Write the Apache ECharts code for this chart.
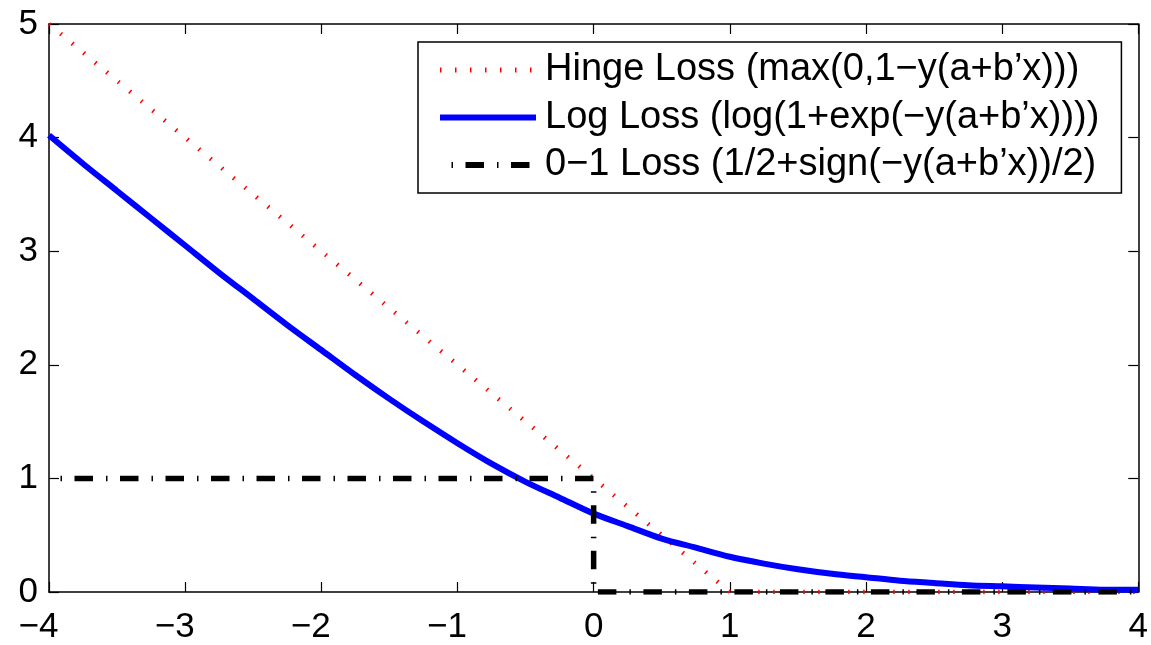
<!DOCTYPE html>
<html>
<head>
<meta charset="utf-8">
<script src="https://cdn.jsdelivr.net/npm/echarts@6/dist/echarts.min.js"></script>
<style>
html,body{margin:0;padding:0;background:#fff;}
#chart{width:1151px;height:645px;}
</style>
</head>
<body>
<div id="chart"></div>
<script>
// Series names
var seriesNames = [
  "Hinge Loss (max(0,1\u2212y(a+b\u2019x)))",
  "Log Loss (log(1+exp(\u2212y(a+b\u2019x))))",
  "0\u22121 Loss (1/2+sign(\u2212y(a+b\u2019x))/2)"
];
// Hinge loss points
var hingeX = [-4, 1, 4];
var hingeY = [5, 0, 0];
// Log loss curve samples
var logX = [-4, -3.75, -3.5, -3.25, -3, -2.75, -2.5, -2.25, -2, -1.75, -1.5, -1.25, -1, -0.75, -0.5, -0.25,
            0, 0.25, 0.5, 0.75, 1, 1.25, 1.5, 1.75, 2, 2.25, 2.5, 2.75, 3, 3.25, 3.5, 3.75, 4];
var logY = [4.02, 3.77, 3.53, 3.29, 3.05, 2.81, 2.58, 2.35, 2.13, 1.91, 1.70, 1.50, 1.31, 1.13, 0.97, 0.83,
            0.69, 0.58, 0.47, 0.39, 0.31, 0.25, 0.20, 0.16, 0.13, 0.10, 0.08, 0.06, 0.05, 0.04, 0.03, 0.02, 0.02];
// 0-1 loss points
var zeroOneX = [-4, 0, 0, 4];
var zeroOneY = [1, 1, 0, 0];
// Axis ranges / ticks
var xTicks = [-4, -3, -2, -1, 0, 1, 2, 3, 4];
var yTicks = [0, 1, 2, 3, 4, 5];

function zip(a, b) { return a.map(function (v, i) { return [v, b[i]]; }); }

var FONT = "'Liberation Sans', Arial, Helvetica, sans-serif";
var chart = echarts.init(document.getElementById('chart'), null, {renderer: 'canvas'});

var axisLineStyle = {color: '#000', width: 1.5};
var tickCommon = {show: true, inside: true, length: 10, lineStyle: {color: '#000', width: 1.2}};

var hingeStyle = {color: '#ff0000', width: 4.5, type: [1.5, 13.5], cap: 'butt'};
var logStyle = {color: '#0000ff', width: 6};
var zeroOneStyle = {color: '#000', width: 5.5, type: [18.5, 13, 1.5, 12.5], dashOffset: 20, cap: 'butt', join: 'miter'};

var option = {
  animation: false,
  backgroundColor: '#fff',
  grid: {left: 49, right: 12, top: 24, bottom: 48, containLabel: false},
  xAxis: [{
    type: 'value', min: xTicks[0], max: xTicks[xTicks.length - 1], interval: 1,
    position: 'bottom',
    axisLine: {show: true, onZero: false, lineStyle: axisLineStyle},
    axisTick: tickCommon,
    splitLine: {show: false},
    axisLabel: {
      margin: 18, color: '#000', fontSize: 35, fontFamily: FONT,
      formatter: function (v) {
        if (v < 0) return '{neg|\u2212' + Math.abs(v) + '}';
        return '{pos|' + v + '}';
      },
      rich: {
        neg: {fontSize: 35, fontFamily: FONT, color: '#000', padding: [0, 21, 0, 0]},
        pos: {fontSize: 35, fontFamily: FONT, color: '#000'}
      }
    }
  }, {
    type: 'value', min: xTicks[0], max: xTicks[xTicks.length - 1], interval: 1,
    position: 'top',
    axisLine: {show: true, onZero: false, lineStyle: axisLineStyle},
    axisTick: tickCommon,
    splitLine: {show: false},
    axisLabel: {show: false}
  }],
  yAxis: [{
    type: 'value', min: yTicks[0], max: yTicks[yTicks.length - 1], interval: 1,
    position: 'left',
    axisLine: {show: true, onZero: false, lineStyle: axisLineStyle},
    axisTick: tickCommon,
    splitLine: {show: false},
    axisLabel: {margin: 11, color: '#000', fontSize: 35, fontFamily: FONT}
  }, {
    type: 'value', min: yTicks[0], max: yTicks[yTicks.length - 1], interval: 1,
    position: 'right',
    axisLine: {show: true, onZero: false, lineStyle: axisLineStyle},
    axisTick: tickCommon,
    splitLine: {show: false},
    axisLabel: {show: false}
  }],
  legend: {
    orient: 'vertical',
    left: 418, top: 42,
    data: [
      {name: seriesNames[0], lineStyle: {width: 5, type: [1.5, 13.5], color: '#ff0000'}},
      {name: seriesNames[1], lineStyle: {width: 6, type: 'solid', color: '#0000ff'}},
      {name: seriesNames[2], lineStyle: {width: 6, type: [18.5, 13, 1.5, 12.5], color: '#000'}}
    ],
    backgroundColor: '#fff',
    borderColor: '#000', borderWidth: 1.5, borderRadius: 0,
    padding: [8, 22, 8, 19],
    itemWidth: 96, itemHeight: 14, itemGap: 7.5,
    selectedMode: false,
    itemStyle: {opacity: 0, color: 'rgba(0,0,0,0)', borderWidth: 0},
    textStyle: {color: '#000', fontSize: 38, fontFamily: FONT, lineHeight: 40, padding: [0, 0, 0, 4]}
  },
  series: [{
    name: seriesNames[0], type: 'line', data: zip(hingeX, hingeY),
    symbol: 'none', showSymbol: false, z: 2,
    lineStyle: hingeStyle,
    itemStyle: {color: '#ff0000'}
  }, {
    name: seriesNames[1], type: 'line', data: zip(logX, logY), smooth: 0.3,
    symbol: 'none', showSymbol: false, z: 3,
    lineStyle: logStyle,
    itemStyle: {color: '#0000ff'}
  }, {
    name: seriesNames[2], type: 'line', data: zip(zeroOneX, zeroOneY),
    symbol: 'none', showSymbol: false, z: 4,
    lineStyle: zeroOneStyle,
    itemStyle: {color: '#000'}
  }]
};
chart.setOption(option);
</script>
</body>
</html>
